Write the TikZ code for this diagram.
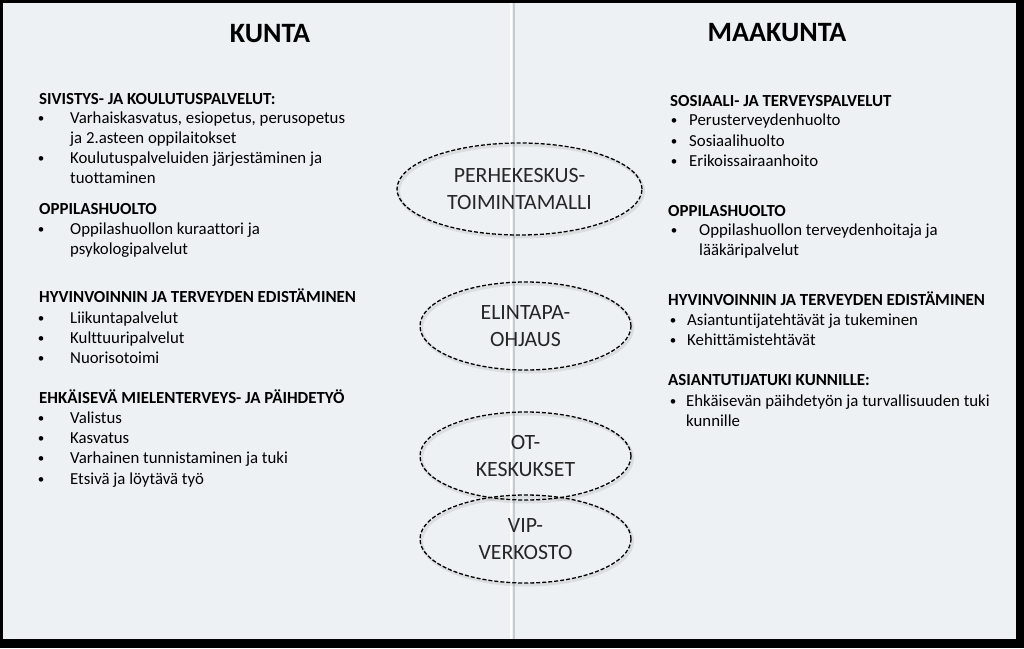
\documentclass[tikz,border=0pt]{standalone}
\usepackage{fontspec}
\setmainfont{Carlito}[Ligatures={NoCommon}]
\usepackage{tikz}
\usetikzlibrary{
    calc,
    shapes.geometric
}
\definecolor{panel}{HTML}{EDF1F3}
\definecolor{divider}{HTML}{C6CBCE}
\definecolor{ovaltext}{HTML}{262626}
\tikzset{
    title/.style={inner sep=0pt, font=\bfseries\fontsize{28}{32}\selectfont},
    head/.style={anchor=base west, inner sep=0pt, font=\bfseries\fontsize{16.9}{20}\selectfont},
    entry/.style={anchor=base west, inner sep=0pt, font=\fontsize{16.8}{20}\selectfont},
    dot/.style={anchor=base, inner sep=0pt, yshift=1pt, font=\fontsize{13}{20}\selectfont},
    oval/.style={ellipse, draw=black, dash pattern=on 4pt off 2pt, line width=1.3pt,
        text=ovaltext, align=center, font=\fontsize{21.8}{27}\selectfont},
    ovalshadow/.style={ellipse, draw=black, opacity=0.08, line width=3pt}
}

\begin{document}
\begin{tikzpicture}[x=1pt, y=-1pt]
        \fill[black] (0,0) rectangle (1024,648);
        \useasboundingbox (0,0) rectangle (1024,648);
        \fill[panel] (3,3) rectangle (1016,639);
        \draw[white, line width=2pt] (511,3) -- (511,639);
        \draw[divider, line width=1.5pt] (514,3) -- (514,639);

        % titles
        \draw (270,34) node[title](ku){KUNTA};
        \draw (777,33) node[title](mk){MAAKUNTA};

        % kunta
        \draw (39,104) node[head](k1){SIVISTYS- JA KOULUTUSPALVELUT:};
        \draw (41,123) node[dot]{\textbullet};
        \draw (70,123) node[entry](k11){Varhaiskasvatus, esiopetus, perusopetus};
        \draw (70,143) node[entry](k12){ja 2.asteen oppilaitokset};
        \draw (41,163) node[dot]{\textbullet};
        \draw (70,163) node[entry](k13){Koulutuspalveluiden järjestäminen ja};
        \draw (70,183) node[entry](k14){tuottaminen};

        \draw (39,214) node[head](k2){OPPILASHUOLTO};
        \draw (41,234) node[dot]{\textbullet};
        \draw (70,234) node[entry](k21){Oppilashuollon kuraattori ja};
        \draw (70,254) node[entry](k22){psykologipalvelut};

        \draw (39,302) node[head](k3){HYVINVOINNIN JA TERVEYDEN EDISTÄMINEN};
        \foreach \y/\txt [count=\i] in {323/Liikuntapalvelut, 343/Kulttuuripalvelut, 363/Nuorisotoimi} {
            \draw (41,\y) node[dot]{\textbullet};
            \draw (70,\y) node[entry](k3\i){\txt};
        }

        \draw (39,403) node[head](k4){EHKÄISEVÄ MIELENTERVEYS- JA PÄIHDETYÖ};
        \foreach \y/\txt [count=\i] in {423/Valistus, 443/Kasvatus, 463/Varhainen tunnistaminen ja tuki, 484/Etsivä ja löytävä työ} {
            \draw (41,\y) node[dot]{\textbullet};
            \draw (70,\y) node[entry](k4\i){\txt};
        }

        % maakunta
        \draw (670,106) node[head](m1){SOSIAALI- JA TERVEYSPALVELUT};
        \foreach \y/\txt [count=\i] in {125/Perusterveydenhuolto, 146/Sosiaalihuolto, 166/Erikoissairaanhoito} {
            \draw (674,\y) node[dot]{\textbullet};
            \draw (689,\y) node[entry](m1\i){\txt};
        }

        \draw (668,216) node[head](m2){OPPILASHUOLTO};
        \draw (674,235) node[dot]{\textbullet};
        \draw (699,235) node[entry](m21){Oppilashuollon terveydenhoitaja ja};
        \draw (699,255) node[entry](m22){lääkäripalvelut};

        \draw (668,305) node[head](m3){HYVINVOINNIN JA TERVEYDEN EDISTÄMINEN};
        \foreach \y/\txt [count=\i] in {325/Asiantuntijatehtävät ja tukeminen, 345/Kehittämistehtävät} {
            \draw (673,\y) node[dot]{\textbullet};
            \draw (687,\y) node[entry](m3\i){\txt};
        }

        \draw (668,385) node[head](m4){ASIANTUTIJATUKI KUNNILLE:};
        \draw (673,406) node[dot]{\textbullet};
        \draw (686,406) node[entry](m41){Ehkäisevän päihdetyön ja turvallisuuden tuki};
        \draw (686,426) node[entry](m42){kunnille};

        % yhteiset
        \foreach \x/\y/\w/\h in {519.5/189/245/92, 525.5/326/211/88, 525.5/456/211/88, 525.5/539/211/88} {
            \draw ($(\x,\y)+(1.5,2)$) node[ovalshadow, minimum width=\w, minimum height=\h]{};
        }
        \draw (519.5,189) node[oval, minimum width=245, minimum height=92](o1){PERHEKESKUS-\\TOIMINTAMALLI};
        \draw (525.5,326) node[oval, minimum width=211, minimum height=88](o2){ELINTAPA-\\OHJAUS};
        \draw (525.5,456) node[oval, minimum width=211, minimum height=88](o3){OT-\\KESKUKSET};
        \draw (525.5,539) node[oval, minimum width=211, minimum height=88](o4){VIP-\\VERKOSTO};
    \end{tikzpicture}
\end{document}
